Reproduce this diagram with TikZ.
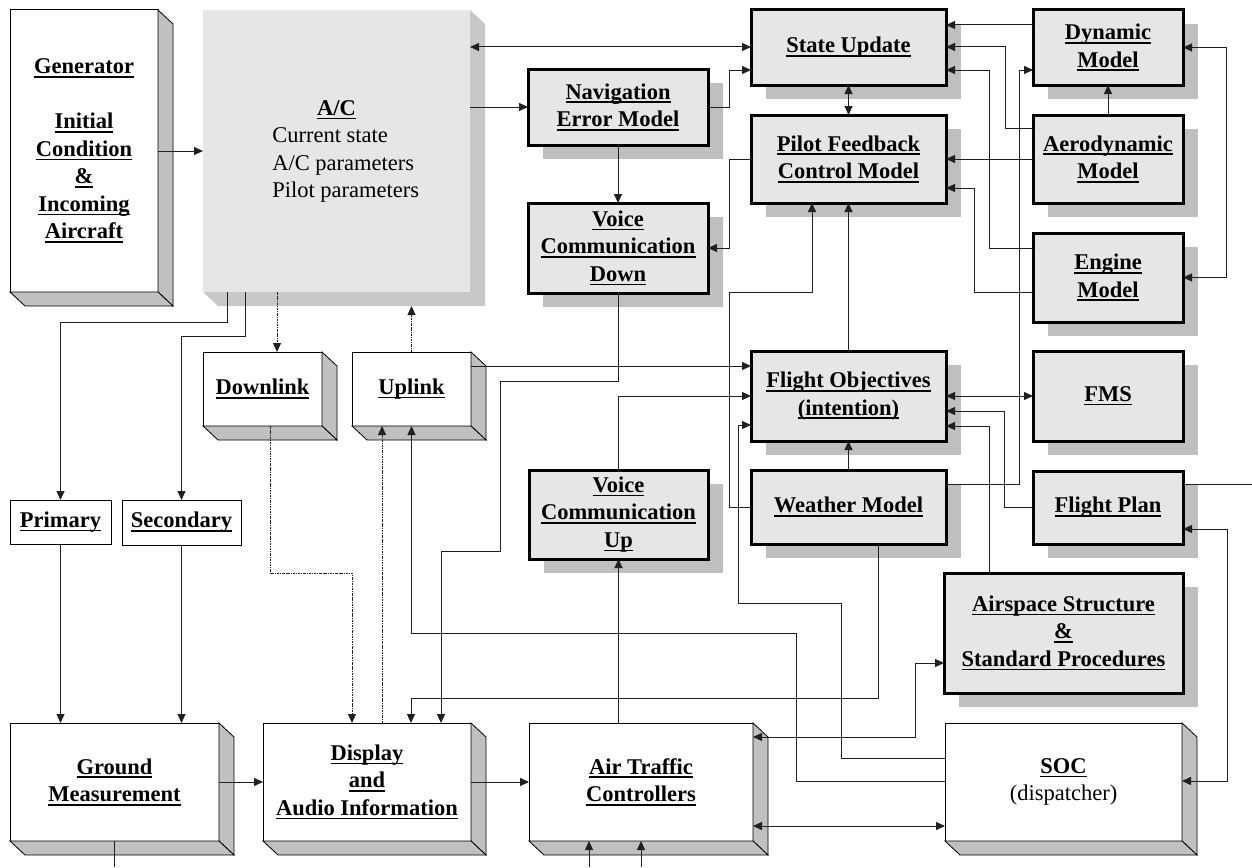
\documentclass[tikz,border=0pt]{standalone}
\usepackage{fontspec}
\setmainfont{Liberation Serif}
\usetikzlibrary{arrows.meta,calc,shadows}
\definecolor{sidegray}{HTML}{C0C0C0}
\definecolor{shadowgray}{HTML}{BFBFBF}
\definecolor{patfill}{HTML}{E6E6E6}
\definecolor{acside}{HTML}{C8C8C8}
\definecolor{linecol}{HTML}{202020}
\newcommand\uln[1]{{\setbox0\hbox{#1}\rlap{\rule[-4pt]{\wd0}{1.8pt}}\box0}}
\newcommand\threedsides[1]{%
  \draw[line width=0.8pt, fill=sidegray] (#1.north east) -- ++(15,14) -- ($(#1.south east)+(15,14)$) -- (#1.south east) -- cycle;
  \draw[line width=0.8pt, fill=sidegray] (#1.south west) -- ++(15,14) -- ($(#1.south east)+(15,14)$) -- (#1.south east) -- cycle;}
\newcommand\acsidesdraw[1]{%
  \fill[acside] (#1.north east) -- ++(15,14) -- ($(#1.south east)+(15,14)$) -- (#1.south east) -- cycle;
  \fill[acside] (#1.south west) -- ++(15,14) -- ($(#1.south east)+(15,14)$) -- (#1.south east) -- cycle;}
\begin{document}
\begin{tikzpicture}[x=1pt,y=-1pt,
  every node/.style={outer sep=0pt},
  tf/.style={font=\fontsize{22.5}{27.5}\selectfont\bfseries, align=center},
  pbox/.style={tf, draw=black, line width=3pt, fill=patfill, anchor=north west, inner sep=2pt,
    general shadow={shadow xshift=15pt, shadow yshift=-14pt, fill=shadowgray}},
  dbox/.style={tf, draw=black, line width=1pt, fill=white, anchor=north west, inner sep=2pt},
  plainbox/.style={tf, draw=black, line width=1pt, fill=white, anchor=north west, inner sep=2pt},
  acbox/.style={fill=patfill, draw=none, anchor=north west},
  conn/.style={draw=linecol, line width=1pt},
  arr/.style={conn, -{Triangle[length=9pt,width=8pt]}},
  darr/.style={conn, {Triangle[length=9pt,width=8pt]}-{Triangle[length=9pt,width=8pt]}},
  dotconn/.style={draw=linecol, line width=0.9pt, dash pattern=on 2.5pt off 1pt on 0.8pt off 1pt, -{Triangle[length=9pt,width=8pt]}},
]
\useasboundingbox (0,0) rectangle (1252,867);

% ---------- boxes ----------
\node[dbox, minimum width=148, minimum height=282] (gen) at (10,10)
  {\uln{Generator}\\[27.5pt]\uln{Initial}\\\uln{Condition}\\\uln{\&}\\\uln{Incoming}\\\uln{Aircraft}};
\threedsides{gen}

\node[acbox, minimum width=267, minimum height=282] (ac) at (203,10) {};
\acsidesdraw{ac}
\node[tf] (actitle) at (336.5,110) {\uln{A/C}};
\node[font=\fontsize{22.5}{27.5}\selectfont, align=left, anchor=west] (acbody) at (269,165)
  {Current state\\A/C parameters\\Pilot parameters};

\node[pbox, minimum width=180, minimum height=76] (nem) at (528,69) {\uln{Navigation}\\\uln{Error Model}};
\node[pbox, minimum width=180, minimum height=90] (vcd) at (528,203) {\uln{Voice}\\\uln{Communication}\\\uln{Down}};
\node[pbox, minimum width=195, minimum height=75] (su) at (751,10) {\uln{State Update}};
\node[pbox, minimum width=195, minimum height=88] (pf) at (751,115) {\uln{Pilot Feedback}\\\uln{Control Model}};
\node[pbox, minimum width=150, minimum height=75] (dyn) at (1033,10) {\uln{Dynamic}\\\uln{Model}};
\node[pbox, minimum width=150, minimum height=88] (aero) at (1033,115) {\uln{Aerodynamic}\\\uln{Model}};
\node[pbox, minimum width=150, minimum height=89] (eng) at (1033,233) {\uln{Engine}\\\uln{Model}};
\node[pbox, minimum width=195, minimum height=90] (fo) at (751,351) {\uln{Flight Objectives}\\\uln{(intention)}};
\node[pbox, minimum width=150, minimum height=90] (fms) at (1033,351) {\uln{FMS}};
\node[pbox, minimum width=195, minimum height=74] (wm) at (751,470) {\uln{Weather Model}};
\node[pbox, minimum width=150, minimum height=73] (fp) at (1033,471) {\uln{Flight Plan}};
\node[pbox, minimum width=179, minimum height=89] (vcu) at (529,470) {\uln{Voice}\\\uln{Communication}\\\uln{Up}};
\node[pbox, minimum width=239, minimum height=120] (asp) at (944,573) {\uln{Airspace Structure}\\\uln{\&}\\\uln{Standard Procedures}};

\node[dbox, minimum width=119, minimum height=74] (dl) at (203,352) {\uln{Downlink}};
\threedsides{dl}
\node[dbox, minimum width=119, minimum height=74] (ul) at (352,352) {\uln{Uplink}};
\threedsides{ul}
\node[plainbox, minimum width=101, minimum height=44] (pri) at (10,500) {\uln{Primary}};
\node[plainbox, minimum width=119, minimum height=45] (sec) at (122,500) {\uln{Secondary}};

\node[dbox, minimum width=209, minimum height=118] (gm) at (10,723) {\uln{Ground}\\\uln{Measurement}};
\threedsides{gm}
\node[dbox, minimum width=208, minimum height=118] (disp) at (263,723) {\uln{Display}\\\uln{and}\\\uln{Audio Information}};
\threedsides{disp}
\node[dbox, minimum width=224, minimum height=118] (atc) at (529,723) {\uln{Air Traffic}\\\uln{Controllers}};
\threedsides{atc}
\node[dbox, minimum width=237, minimum height=118] (soc) at (945,723) {\uln{SOC}\\{\mdseries (dispatcher)}};
\threedsides{soc}

\coordinate (gmout) at (114.5,867);
\coordinate (atcin1) at (589,867);
\coordinate (atcin2) at (641,867);
\coordinate (fpout) at (1252,484);

% ---------- connectors ----------
\draw[arr] (gen.east) -- (ac.west);
\draw[darr] (ac.east |- 0,47) -- (su.west |- 0,47);
\draw[arr] (ac.east |- nem.west) -- (nem.west);
\draw[arr] (nem.east) -- (729,107) |- (su.west |- 0,70);
\draw[arr] (nem.south) -- (vcd.north);
\draw[arr] (pf.west) -| (729,248) -- (vcd.east);
\draw[darr] (su.south) -- (pf.north);
\draw[arr] (dyn.west |- 0,25) -- (su.east |- 0,25);
\draw[arr] (aero.west |- 0,128) -| (1005,47) -- (su.east |- 0,47);
\draw[arr] (eng.west |- 0,248) -| (989,70) -- (su.east |- 0,70);
\draw[arr] (aero.west) -- (pf.east);
\draw[arr] (eng.west |- 0,292) -| (974,188) -- (pf.east |- 0,188);
\draw[arr] (aero.north) -- (dyn.south);
\draw[darr] (dyn.east) -- ++(43,0) |- (eng.east);
\draw[arr] (wm.east |- 0,484) -| (1019,70) -- (dyn.west |- 0,70);
\draw[arr] (wm.west) -| (729,292) -| (pf.south -| 812,0);
\draw[arr] (fo.north) -- (pf.south);
\draw[arr] (wm.north) -- (fo.south);
\draw[darr] (fo.east) -- (fms.west);
\draw[arr] (fp.west) -| (1004,411) -- (fo.east |- 0,411);
\draw[arr] (asp.north -| 989,0) |- (fo.east |- 0,426);
\draw[arr] (ul.east |- 0,366) -- (fo.west |- 0,366);
\draw[arr] (vcu.north) |- (fo.west);
\draw[arr] (soc.west |- 0,758) -| (841,603) -| (738,425) -- (fo.west |- 0,425);
\draw[arr] (vcd.south) |- (500,381) |- (441,551) -- (disp.north -| 441,0);
\draw[arr] (soc.west |- 0,781) -| (796,633) -| (ul.south);
\draw[arr] (wm.south -| 878,0) |- (411,698) -- (disp.north -| 411,0);
\draw[dotconn] (ac.south -| 277,0) -- (dl.north -| 277,0);
\draw[dotconn] (dl.south -| 270,0) |- (352,573) -- (disp.north -| 352,0);
\draw[dotconn] (disp.north -| 382,0) -- (ul.south -| 382,0);
\draw[dotconn] (ul.north) -- ($(ac.south -| ul.north)+(0,14)$);
\draw[arr] (ac.south -| 227,0) -- (227,322) -| (pri.north);
\draw[arr] (ac.south -| 245,0) -- (245,336) -| (sec.north);
\draw[arr] (pri.south) -- (pri.south |- gm.north);
\draw[arr] (sec.south) -- (sec.south |- gm.north);
\draw[arr] (gm.east) -- (disp.west);
\draw[conn] (gm.south) -- (gmout);
\draw[arr] (disp.east) -- (atc.west);
\draw[arr] (vcu.south |- atc.north) -- (vcu.south);
\draw[arr] (atcin1) -- (atcin1 |- atc.south);
\draw[arr] (atcin2) -- (atcin2 |- atc.south);
\draw[darr] (atc.east |- 0,737) -| (915,663) -- (asp.west |- 0,663);
\draw[darr] (atc.east |- 0,826) -- (soc.west |- 0,826);
\draw[darr] (fp.east |- 0,529) -| (1227,781) -- (soc.east |- 0,781);
\draw[conn] (fp.east |- 0,484) -- (fpout);
\end{tikzpicture}
\end{document}
